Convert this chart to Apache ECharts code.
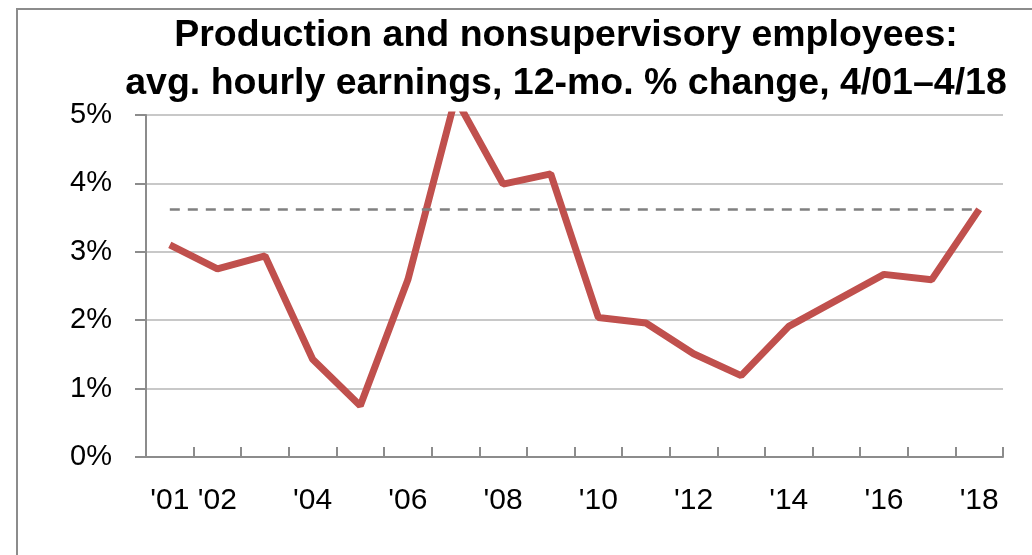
<!DOCTYPE html>
<html>
<head>
<meta charset="utf-8">
<script src="https://cdn.jsdelivr.net/npm/echarts@6/dist/echarts.min.js"></script>
<style>
  html, body { margin: 0; padding: 0; background: #fff; }
  #chart-container { width: 1032px; height: 555px; }
</style>
</head>
<body>
<div id="chart-container"></div>
<script>
// 年份（4月到4月）
const years = ["'01", "'02", "'03", "'04", "'05", "'06", "'07", "'08", "'09",
  "'10", "'11", "'12", "'13", "'14", "'15", "'16", "'17", "'18"];
// 12个月变化率 %
const wageGrowth = [3.10, 2.75, 2.94, 1.43, 0.75, 2.59, 5.25, 3.99, 4.14,
  2.04, 1.96, 1.51, 1.19, 1.91, 2.29, 2.67, 2.59, 3.62];
// 虚线参考水平（最新值）
const latestLevel = [3.62];
const yTicks = [0, 1, 2, 3, 4, 5];

const font = 'Liberation Sans, Arial, sans-serif';

const chartOption = {
  animation: false,
  title: {
    text: 'Production and nonsupervisory employees:\navg. hourly earnings, 12-mo. % change, 4/01\u20134/18',
    left: 561,
    top: 7,
    textAlign: 'center',
    textStyle: {
      fontFamily: font,
      fontWeight: 'bold',
      fontSize: 37.5,
      lineHeight: 48,
      color: '#000'
    }
  },
  graphic: [{
    type: 'rect',
    shape: { x: 17, y: 9, width: 1040, height: 560 },
    style: { fill: 'none', stroke: '#8c8c8c', lineWidth: 2 },
    silent: true
  }],
  grid: { left: 146, right: 29, top: 115, bottom: 98 },
  xAxis: {
    type: 'category',
    data: years,
    boundaryGap: true,
    axisLine: { lineStyle: { color: '#8c8c8c', width: 2 } },
    axisTick: { show: true, inside: true, length: 10, interval: 0, lineStyle: { color: '#8c8c8c', width: 2 } },
    axisLabel: {
      interval: function (i) { return i === 0 || i % 2 === 1; },
      margin: 29,
      fontFamily: font,
      fontSize: 30,
      color: '#000'
    }
  },
  yAxis: {
    type: 'value',
    min: yTicks[0],
    max: yTicks[yTicks.length - 1],
    interval: 1,
    axisLine: { show: true, lineStyle: { color: '#8c8c8c', width: 2 } },
    axisTick: { show: true, length: 11, lineStyle: { color: '#8c8c8c', width: 2 } },
    splitLine: { lineStyle: { color: '#c8c8c8', width: 2 } },
    axisLabel: {
      formatter: '{value}%',
      margin: 34,
      fontFamily: font,
      fontSize: 29,
      color: '#000'
    }
  },
  series: [{
    name: 'Avg. hourly earnings',
    type: 'line',
    data: wageGrowth,
    symbol: 'none',
    clip: true,
    lineStyle: { color: '#C0504D', width: 7 },
    markLine: {
      silent: true,
      symbol: 'none',
      label: { show: false },
      lineStyle: { color: '#808080', width: 2.5, type: [10, 8] },
      data: [[
        { coord: [0, latestLevel[0]] },
        { coord: [years.length - 1, latestLevel[0]] }
      ]]
    }
  }]
};

const chartContainer = document.getElementById('chart-container');
const chart = echarts.init(chartContainer);
chart.setOption(chartOption);
</script>
</body>
</html>
